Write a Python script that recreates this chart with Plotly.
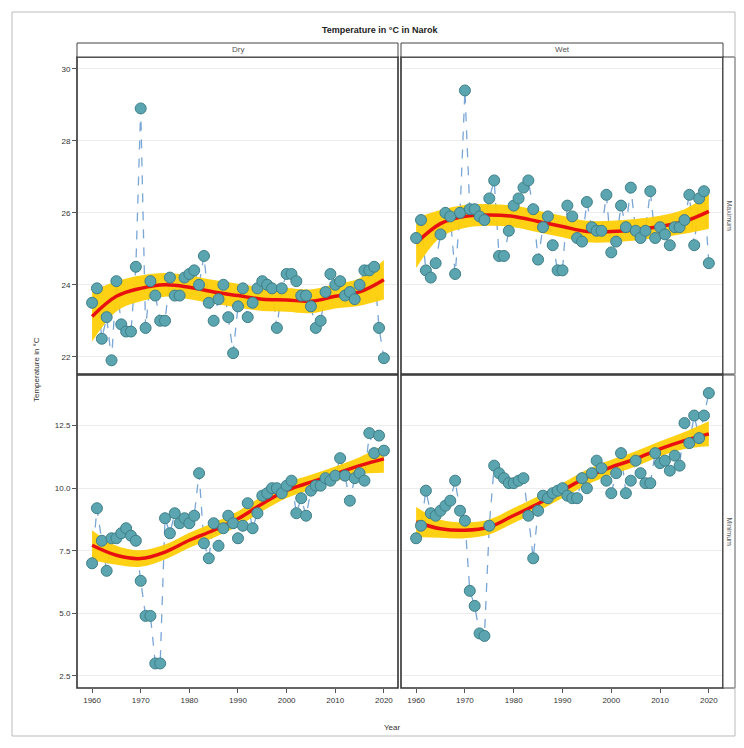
import plotly.graph_objects as go

years = list(range(1960, 2021))

dry_max = [23.5, 23.9, 22.5, 23.1, 21.9, 24.1, 22.9, 22.7, 22.7, 24.5,
           28.9, 22.8, 24.1, 23.7, 23.0, 23.0, 24.2, 23.7, 23.7, 24.2,
           24.3, 24.4, 24.0, 24.8, 23.5, 23.0, 23.6, 24.0, 23.1, 22.1,
           23.4, 23.9, 23.1, 23.5, 23.9, 24.1, 24.0, 23.9, 22.8, 23.9,
           24.3, 24.3, 24.1, 23.7, 23.7, 23.4, 22.8, 23.0, 23.8, 24.3,
           24.0, 24.1, 23.7, 23.8, 23.6, 24.0, 24.4, 24.4, 24.5, 22.8, 21.96]
wet_max = [25.3, 25.8, 24.4, 24.2, 24.6, 25.4, 26.0, 25.9, 24.3, 26.0,
           29.4, 26.1, 26.1, 25.9, 25.8, 26.4, 26.9, 24.8, 24.8, 25.5,
           26.2, 26.4, 26.7, 26.9, 26.1, 24.7, 25.6, 25.9, 25.1, 24.4,
           24.4, 26.2, 25.9, 25.3, 25.2, 26.3, 25.6, 25.5, 25.5, 26.5,
           24.9, 25.2, 26.2, 25.6, 26.7, 25.5, 25.3, 25.5, 26.6, 25.3,
           25.6, 25.4, 25.1, 25.6, 25.6, 25.8, 26.5, 25.1, 26.4, 26.6, 24.6]
dry_min = [7.0, 9.2, 7.9, 6.7, 8.0, 8.0, 8.2, 8.4, 8.1, 7.9,
           6.3, 4.9, 4.9, 3.0, 3.0, 8.8, 8.2, 9.0, 8.6, 8.8,
           8.6, 8.9, 10.6, 7.8, 7.2, 8.6, 7.7, 8.4, 8.9, 8.6,
           8.0, 8.5, 9.4, 8.4, 9.0, 9.7, 9.8, 10.0, 10.0, 9.8,
           10.1, 10.3, 9.0, 9.6, 8.9, 9.9, 10.1, 10.1, 10.4, 10.3,
           10.5, 11.2, 10.5, 9.5, 10.4, 10.6, 10.3, 12.2, 11.4, 12.1, 11.5]
wet_min = [8.0, 8.5, 9.9, 9.0, 8.9, 9.1, 9.3, 9.5, 10.3, 9.1,
           8.7, 5.9, 5.3, 4.2, 4.1, 8.5, 10.9, 10.6, 10.4, 10.2,
           10.2, 10.3, 10.4, 8.9, 7.2, 9.1, 9.7, 9.6, 9.8, 9.9,
           10.0, 9.7, 9.6, 9.6, 10.4, 10.0, 10.6, 11.1, 10.8, 10.3,
           9.8, 10.6, 11.4, 9.8, 10.3, 11.1, 10.6, 10.2, 10.2, 11.4,
           11.0, 11.1, 10.7, 11.3, 10.9, 12.6, 11.8, 12.9, 12.0, 12.9, 13.8]

# smoothed trend at 5-year knots
smooth_years = [1960, 1965, 1970, 1975, 1980, 1985, 1990, 1995, 2000, 2005, 2010, 2015, 2020]
dry_max_fit = [23.12, 23.68, 23.9, 24.0, 23.93, 23.8, 23.7, 23.6, 23.58, 23.54, 23.68, 23.8, 24.14]
dry_max_se = [0.7, 0.42, 0.36, 0.33, 0.33, 0.33, 0.33, 0.33, 0.33, 0.33, 0.34, 0.38, 0.55]
wet_max_fit = [25.16, 25.7, 25.9, 25.94, 25.9, 25.76, 25.62, 25.48, 25.48, 25.53, 25.62, 25.76, 26.04]
wet_max_se = [0.7, 0.38, 0.32, 0.3, 0.3, 0.3, 0.3, 0.3, 0.3, 0.3, 0.3, 0.34, 0.48]
dry_min_fit = [7.72, 7.32, 7.19, 7.45, 7.92, 8.32, 8.78, 9.38, 9.91, 10.24, 10.57, 10.9, 11.17]
dry_min_se = [0.6, 0.38, 0.33, 0.3, 0.3, 0.3, 0.3, 0.3, 0.3, 0.3, 0.3, 0.34, 0.55]
wet_min_fit = [8.65, 8.38, 8.32, 8.45, 8.91, 9.38, 9.91, 10.44, 10.84, 11.17, 11.57, 11.9, 12.17]
wet_min_se = [0.6, 0.36, 0.32, 0.3, 0.3, 0.3, 0.3, 0.3, 0.3, 0.3, 0.3, 0.34, 0.5]

col_labels = ["Dry", "Wet"]
row_labels = ["Maximum", "Minimum"]
x_ticks = [1960, 1970, 1980, 1990, 2000, 2010, 2020]
top_ticks = [22, 24, 26, 28, 30]
bot_ticks = [2.5, 5.0, 7.5, 10.0, 12.5]
bot_tick_text = ["2.5", "5.0", "7.5", "10.0", "12.5"]

# page has an 8px body margin: figure is 728x732 placed at (8,8)
OFF = 8
W, H = 744 - 2 * OFF, 748 - 2 * OFF
def px(x): return (x - OFF) / W
def py(y): return 1 - (y - OFF) / H

x_dom = [[px(77), px(398)], [px(401), px(723)]]
y_dom = [[py(374), py(57)], [py(688), py(375)]]

panels = [
    (0, 0, dry_max, dry_max_fit, dry_max_se),
    (0, 1, wet_max, wet_max_fit, wet_max_se),
    (1, 0, dry_min, dry_min_fit, dry_min_se),
    (1, 1, wet_min, wet_min_fit, wet_min_se),
]

fig = go.Figure()
layout_axes = {}
shapes = []
annotations = []

for i, (r, c, vals, fit, se) in enumerate(panels):
    n = i + 1
    xa = "x" if n == 1 else f"x{n}"
    ya = "y" if n == 1 else f"y{n}"
    hi = [f + s for f, s in zip(fit, se)]
    lo = [f - s for f, s in zip(fit, se)]
    fig.add_trace(go.Scatter(x=years, y=vals, mode="lines", xaxis=xa, yaxis=ya,
                             line=dict(color="#7aa6d6", width=1.3, dash="dash"),
                             showlegend=False, hoverinfo="skip"))
    fig.add_trace(go.Scatter(x=smooth_years, y=hi, mode="lines", xaxis=xa, yaxis=ya,
                             line=dict(color="rgba(0,0,0,0)", width=0, shape="spline"),
                             showlegend=False, hoverinfo="skip"))
    fig.add_trace(go.Scatter(x=smooth_years, y=lo, mode="lines", xaxis=xa, yaxis=ya,
                             fill="tonexty", fillcolor="rgba(255,205,0,0.92)",
                             line=dict(color="rgba(0,0,0,0)", width=0, shape="spline"),
                             showlegend=False, hoverinfo="skip"))
    fig.add_trace(go.Scatter(x=smooth_years, y=fit, mode="lines", xaxis=xa, yaxis=ya,
                             line=dict(color="#e8110f", width=3.5, shape="spline"),
                             showlegend=False))
    fig.add_trace(go.Scatter(x=years, y=vals, mode="markers", xaxis=xa, yaxis=ya,
                             marker=dict(size=11, color="#5aa5b0",
                                         line=dict(color="#3f7f88", width=1)),
                             showlegend=False))

    xkey = "xaxis" if n == 1 else f"xaxis{n}"
    ykey = "yaxis" if n == 1 else f"yaxis{n}"
    layout_axes[xkey] = dict(domain=x_dom[c], anchor=ya, range=[1956.9, 2022.9],
                             tickvals=x_ticks, showticklabels=(r == 1),
                             ticks="outside" if r == 1 else "", ticklen=4, tickcolor="#555",
                             tickfont=dict(size=8, color="#333"),
                             showgrid=False, zeroline=False, showline=False)
    if r == 0:
        yrange = [21.52, 30.33]
        ytv, ytt = top_ticks, [str(t) for t in top_ticks]
    else:
        yrange = [2.02, 14.52]
        ytv, ytt = bot_ticks, bot_tick_text
    layout_axes[ykey] = dict(domain=y_dom[r], anchor=xa, range=yrange,
                             tickvals=ytv, ticktext=ytt, showticklabels=(c == 0),
                             ticks="outside" if c == 0 else "", ticklen=4, tickcolor="#555",
                             tickfont=dict(size=8, color="#333"),
                             showgrid=True, gridcolor="#ececec", gridwidth=1,
                             zeroline=False, showline=False)
    shapes.append(dict(type="rect", xref="paper", yref="paper",
                       x0=x_dom[c][0], x1=x_dom[c][1], y0=y_dom[r][0], y1=y_dom[r][1],
                       line=dict(color="#333", width=1.6), layer="above"))

for c in range(2):
    shapes.append(dict(type="rect", xref="paper", yref="paper",
                       x0=x_dom[c][0], x1=x_dom[c][1], y0=py(57), y1=py(43),
                       line=dict(color="#444", width=1), fillcolor="white"))
    annotations.append(dict(text=col_labels[c], xref="paper", yref="paper",
                            x=(x_dom[c][0] + x_dom[c][1]) / 2, y=(py(57) + py(43)) / 2,
                            xanchor="center", yanchor="middle",
                            showarrow=False, font=dict(size=8, color="#555")))
for r in range(2):
    shapes.append(dict(type="rect", xref="paper", yref="paper",
                       x0=px(723), x1=px(735), y0=y_dom[r][0], y1=y_dom[r][1],
                       line=dict(color="#444", width=1), fillcolor="white"))
    annotations.append(dict(text=row_labels[r], xref="paper", yref="paper",
                            x=px(729), y=(y_dom[r][0] + y_dom[r][1]) / 2, textangle=90,
                            xanchor="center", yanchor="middle",
                            showarrow=False, font=dict(size=7, color="#555")))

shapes.append(dict(type="rect", xref="paper", yref="paper",
                   x0=px(12), x1=px(735), y0=py(736), y1=py(12),
                   line=dict(color="#bbb", width=1)))

annotations.append(dict(text="<b>Temperature in °C in Narok</b>", xref="paper", yref="paper",
                        x=px(380), y=py(30), xanchor="center", yanchor="middle",
                        showarrow=False, font=dict(size=9, color="#222")))
annotations.append(dict(text="Temperature in °C", xref="paper", yref="paper",
                        x=px(36), y=py(370), textangle=-90, xanchor="center", yanchor="middle",
                        showarrow=False, font=dict(size=8, color="#333")))
annotations.append(dict(text="Year", xref="paper", yref="paper",
                        x=px(392), y=py(727), xanchor="center", yanchor="middle",
                        showarrow=False, font=dict(size=8, color="#333")))

fig.update_layout(width=W, height=H, margin=dict(l=0, r=0, t=0, b=0),
                  paper_bgcolor="white", plot_bgcolor="white",
                  font=dict(family="Liberation Sans, Arial, sans-serif"),
                  shapes=shapes, annotations=annotations, **layout_axes)

fig.write_html("out.html")
